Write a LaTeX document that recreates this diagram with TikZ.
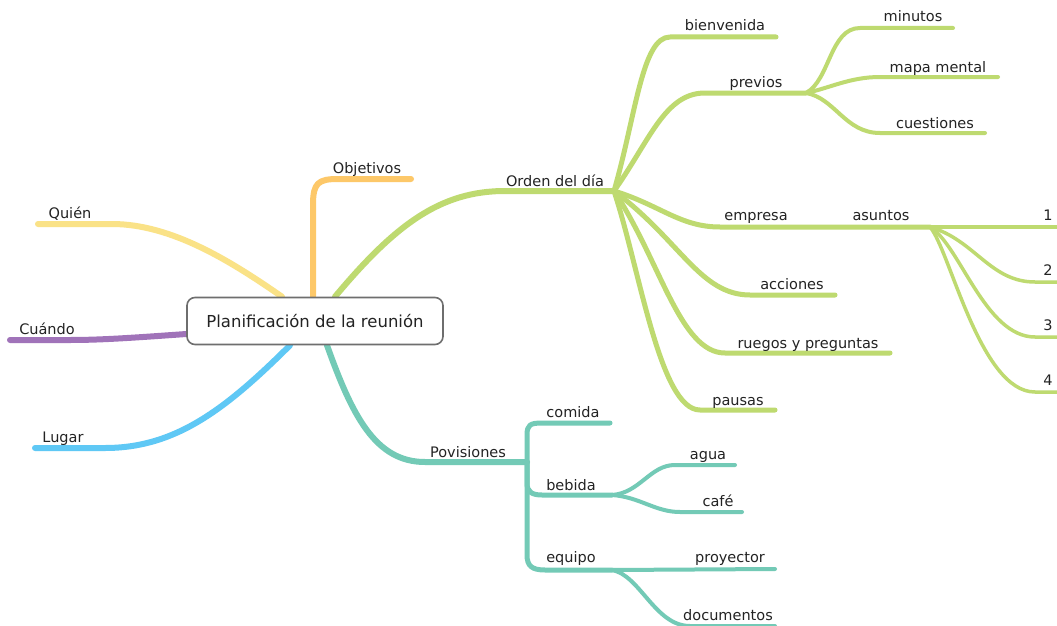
\documentclass[tikz,border=0pt]{standalone}
\usepackage{fontspec}
\setmainfont{DejaVu Sans}
\usepackage{xcolor}
\usetikzlibrary{positioning,backgrounds}
\definecolor{verde}{RGB}{190,218,112}
\definecolor{amarillo}{RGB}{250,226,135}
\definecolor{naranja}{RGB}{253,200,105}
\definecolor{morado}{RGB}{160,115,185}
\definecolor{azul}{RGB}{95,200,245}
\definecolor{turquesa}{RGB}{115,202,182}
\definecolor{texto}{RGB}{35,35,35}
\definecolor{borde}{RGB}{110,110,110}

\begin{document}
\begin{tikzpicture}[x=1pt, y=-1pt,
  rama/.style 2 args={draw=#1, line width=#2, line cap=round, line join=round},
  etq/.style={text=texto, font=\fontsize{14.5}{16}\selectfont, inner sep=0pt, anchor=base},
  raiz/.style={rectangle, rounded corners=8pt, draw=borde, line width=1.6pt, fill=white,
               minimum width=256pt, minimum height=47pt, text=texto,
               font=\fontsize{16.5}{18}\selectfont}]
\useasboundingbox (0,0) rectangle (1057,626);

\node[raiz] (centro) at (315,321) {Planificación de la reunión};

% ramas principales
\node[etq] (quien) at (70,218) {Quién};
\node[etq] (objetivos) at (367,173) {Objetivos};
\node[etq] (orden) at (555,186) {Orden del día};
\node[etq] (cuando) at (47,334) {Cuándo};
\node[etq] (lugar) at (63,442) {Lugar};
\node[etq] (provis) at (468,457) {Povisiones};

% orden del dia
\node[etq] (bienvenida) at (725,31) {bienvenida};
\node[etq] (previos) at (756,87) {previos};
\node[etq] (minutos) at (913,22) {minutos};
\node[etq] (mapa) at (938,72) {mapa mental};
\node[etq] (cuestiones) at (935,128) {cuestiones};
\node[etq] (empresa) at (756,220) {empresa};
\node[etq] (asuntos) at (881,220) {asuntos};
\node[etq] (uno) at (1048,220) {1};
\node[etq] (dos) at (1048,275) {2};
\node[etq] (tres) at (1048,330) {3};
\node[etq] (cuatro) at (1048,385) {4};
\node[etq] (acciones) at (792,289) {acciones};
\node[etq] (ruegos) at (808,348) {ruegos y preguntas};
\node[etq] (pausas) at (738,405) {pausas};

% provisiones
\node[etq] (comida) at (573,417) {comida};
\node[etq] (bebida) at (571,490) {bebida};
\node[etq] (agua) at (708,459) {agua};
\node[etq] (cafe) at (718,506) {café};
\node[etq] (equipo) at (571,562) {equipo};
\node[etq] (proyector) at (730,562) {proyector};
\node[etq] (documentos) at (728,620) {documentos};

\coordinate (hO) at (614,191);
\coordinate (hPr) at (806,93);
\coordinate (hA) at (930,227);
\coordinate (hP) at (527,462);
\coordinate (hB) at (612,495);
\coordinate (hE) at (612,570);

\begin{scope}[on background layer]
\fill[white] (0,0) rectangle (1057,626);
\draw[rama={amarillo}{6pt}] ([xshift=-33pt]centro.north) .. controls (232,262) and (172,224) .. (112,224) -- (38,224);
\draw[rama={naranja}{6pt}] ([xshift=-2pt]centro.north) -- (313,205) .. controls (313,183) and (318,179) .. (338,179) -- (411,179);
\draw[rama={verde}{6pt}] ([xshift=20pt]centro.north) .. controls (395,225) and (440,191) .. (505,191) -- (hO);
\draw[rama={morado}{6pt}] ([yshift=-13pt]centro.west) .. controls (130,338) and (100,340) .. (70,340) -- (10,340);
\draw[rama={azul}{6pt}] ([xshift=-25pt]centro.south) .. controls (225,410) and (175,448) .. (105,448) -- (35,448);
\draw[rama={turquesa}{6pt}] ([xshift=12pt]centro.south) .. controls (352,415) and (375,462) .. (425,462) -- (hP);

% orden del dia
\draw[rama={verde}{5pt}] (hO) .. controls (636,115) and (642,37) .. (670,37) -- (776,37);
\draw[rama={verde}{5pt}] (hO) .. controls (650,140) and (665,93) .. (705,93) -- (hPr);
\draw[rama={verde}{4pt}] (hPr) .. controls (830,80) and (830,28) .. (860,28) -- (953,28);
\draw[rama={verde}{4pt}] (hPr) .. controls (830,88) and (850,77) .. (880,77) -- (998,77);
\draw[rama={verde}{4pt}] (hPr) .. controls (835,98) and (845,133) .. (880,133) -- (985,133);
\draw[rama={verde}{5pt}] (hO) .. controls (660,205) and (680,227) .. (720,227) -- (800,227) -- (hA);
\draw[rama={verde}{3.5pt}] (hA) -- (1057,227);
\draw[rama={verde}{3.5pt}] (hA) .. controls (975,240) and (990,282) .. (1035,282) -- (1057,282);
\draw[rama={verde}{3.5pt}] (hA) .. controls (960,245) and (985,337) .. (1035,337) -- (1057,337);
\draw[rama={verde}{3.5pt}] (hA) .. controls (950,250) and (980,392) .. (1035,392) -- (1057,392);
\draw[rama={verde}{5pt}] (hO) .. controls (680,240) and (700,295) .. (750,295) -- (835,295);
\draw[rama={verde}{5pt}] (hO) .. controls (660,260) and (680,353) .. (725,353) -- (890,353);
\draw[rama={verde}{5pt}] (hO) .. controls (640,270) and (660,410) .. (700,410) -- (775,410);

% provisiones
\draw[rama={turquesa}{5pt}] (hP) -- (527,435) .. controls (527,425) and (530,423) .. (542,423) -- (610,423);
\draw[rama={turquesa}{5pt}] (hP) -- (527,483) .. controls (527,492) and (532,495) .. (542,495) -- (hB);
\draw[rama={turquesa}{5pt}] (hP) -- (527,555) .. controls (527,566) and (532,570) .. (545,570) -- (hE);
\draw[rama={turquesa}{4pt}] (hB) .. controls (640,493) and (650,465) .. (675,465) -- (735,465);
\draw[rama={turquesa}{4pt}] (hB) .. controls (640,497) and (655,512) .. (680,512) -- (742,512);
\draw[rama={turquesa}{4pt}] (hE) -- (775,569);
\draw[rama={turquesa}{4pt}] (hE) .. controls (640,575) and (655,626) .. (690,626) -- (775,626);
\end{scope}
\end{tikzpicture}
\end{document}
